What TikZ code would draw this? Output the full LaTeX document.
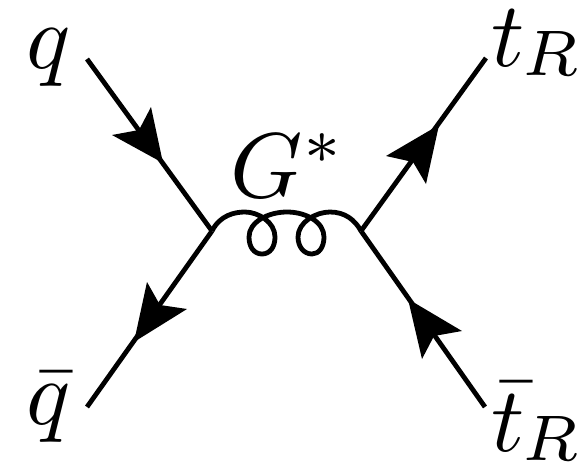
\documentclass[tikz,border=0pt]{standalone}
\newcommand{\subR}{\kern-0.3pt\raisebox{-1.05pt}{$\scriptstyle R$}}
\tikzset{
 fermion/.style={line width=4.8pt},
 gluon/.style={line width=4.8pt,line join=round},
 head/.style={fill=black,draw=none},
 lab/.style={inner sep=0pt,anchor=base west,scale=9.2}
}
\begin{document}
\begin{tikzpicture}[x=1pt,y=-1pt]
\useasboundingbox (0,0) rectangle (580,466);
\coordinate (qs) at (87,59);
\coordinate (qbs) at (87,407);
\coordinate (ts) at (486,58);
\coordinate (tbs) at (485,407);
\coordinate (vl) at (212,231);
\coordinate (vr) at (361,231);
\draw[fermion] (qs) -- (vl);
\draw[fermion] (qbs) -- (vl);
\draw[fermion] (ts) -- (vr);
\draw[fermion] (tbs) -- (vr);
\fill[head] (163,163) -- (151,107) -- (139,130) -- (112,135) -- cycle;
\fill[head] (134,342) -- (187,309) -- (160,305) -- (147,282) -- cycle;
\fill[head] (439,125) -- (386,156) -- (413,162) -- (426,184) -- cycle;
\fill[head] (408,299) -- (422,359) -- (434,336) -- (462,331) -- cycle;
\draw[gluon] (vl) .. controls (220,215) and (235,212) .. (245,212)
 .. controls (258,212) and (275,222) .. (275,237)
 .. controls (275,247) and (270,254) .. (262,254)
 .. controls (254,254) and (249,247) .. (249,237)
 .. controls (249,222) and (268,212) .. (287,212)
 .. controls (306,212) and (324,222) .. (324,237)
 .. controls (324,247) and (319,254) .. (312,254)
 .. controls (304,254) and (298,247) .. (298,237)
 .. controls (298,222) and (316,212) .. (330,212)
 .. controls (345,212) and (355,220) .. (vr);
\node[lab] (lq) at (25,68) {$q$};
\node[lab] (lqb) at (25,424) {$\bar q$};
\node[lab] (lt) at (490,66) {$t\subR$};
\node[lab] (ltb) at (490,451) {$\bar t\subR$};
\node[lab] (lg) at (229,197) {$G^*$};
\end{tikzpicture}
\end{document}
